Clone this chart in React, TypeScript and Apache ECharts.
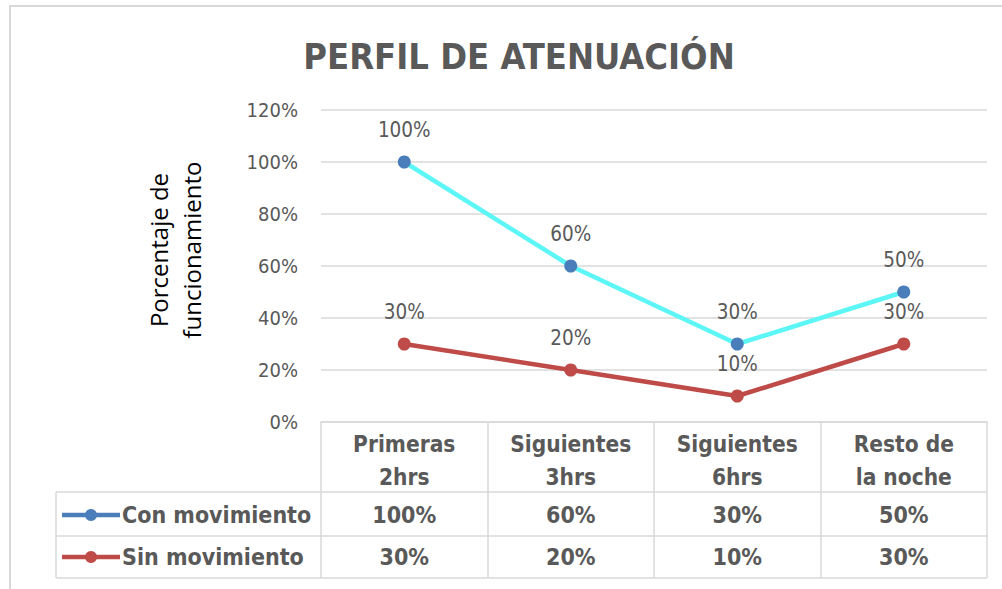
import React, { useEffect, useRef } from "react";
import * as echarts from "echarts";

const categories = ["Primeras\n2hrs", "Siguientes\n3hrs", "Siguientes\n6hrs", "Resto de\nla noche"];
const conMovimiento = [100, 60, 30, 50];
const sinMovimiento = [30, 20, 10, 30];
const seriesNames = ["Con movimiento", "Sin movimiento"];
const yTicks = { min: 0, max: 120, interval: 20 };

const NARROW = "'Liberation Sans Narrow', 'DejaVu Sans Condensed', 'Liberation Sans', sans-serif";
const GREY = "#595959";
const GRID = "#d9d9d9";

export default function App() {
  const ref = useRef<HTMLDivElement>(null);
  useEffect(() => {
    if (!ref.current) return;
    const chart = echarts.init(ref.current, undefined, { renderer: "svg" });
    const lineColors = ["#5CF6F6", "#BE4B48"];
    const markerColors = ["#4A7EBB", "#BE4B48"];
    const allData = [conMovimiento, sinMovimiento];
    chart.setOption({
      animation: false,
      backgroundColor: "#ffffff",
      title: {
        text: "PERFIL DE ATENUACIÓN",
        left: 514,
        textAlign: "center",
        top: 33,
        textStyle: { fontFamily: NARROW, fontWeight: "bold", fontSize: 36, color: GREY },
      },
      grid: { left: 321, right: 15, top: 110, bottom: 167 },
      xAxis: {
        type: "category",
        data: categories,
        boundaryGap: true,
        axisLine: { show: true, lineStyle: { color: GRID, width: 1.5 } },
        axisTick: { show: true, length: 156, alignWithLabel: false, lineStyle: { color: GRID, width: 1.5 } },
        axisLabel: {
          interval: 0,
          margin: 5,
          verticalAlign: "top",
          lineHeight: 33,
          fontFamily: NARROW,
          fontWeight: "bold",
          fontSize: 22.5,
          color: GREY,
        },
      },
      yAxis: {
        type: "value",
        min: yTicks.min,
        max: yTicks.max,
        interval: yTicks.interval,
        axisLine: { show: false },
        axisTick: { show: false },
        splitLine: { lineStyle: { color: GRID, width: 1.5 } },
        axisLabel: { formatter: "{value}%", margin: 23, fontFamily: NARROW, fontSize: 20, color: GREY },
      },
      series: allData.map((d, i) => ({
        name: seriesNames[i],
        type: "line",
        data: d,
        symbol: "circle",
        symbolSize: 13,
        lineStyle: { color: lineColors[i], width: 4.5 },
        itemStyle: { color: markerColors[i] },
        label: {
          show: true,
          position: "top",
          distance: 15,
          formatter: "{c}%",
          fontFamily: NARROW,
          fontSize: 20.5,
          color: GREY,
        },
        z: 3 - i,
      })),
    });

    const xs = conMovimiento.map((_, i) => chart.convertToPixel({ xAxisIndex: 0 }, i) as number);
    const rowY = [515, 557];
    const graphics: any[] = [
      { type: "rect", shape: { x: 10, y: 6, width: 1200, height: 800 }, style: { fill: "none", stroke: GRID, lineWidth: 2 }, silent: true },
      { type: "line", shape: { x1: 56, y1: 492, x2: 987, y2: 492 }, style: { stroke: GRID, lineWidth: 1.5 } },
      { type: "line", shape: { x1: 56, y1: 536, x2: 987, y2: 536 }, style: { stroke: GRID, lineWidth: 1.5 } },
      { type: "line", shape: { x1: 56, y1: 578, x2: 987, y2: 578 }, style: { stroke: GRID, lineWidth: 1.5 } },
      { type: "line", shape: { x1: 56, y1: 492, x2: 56, y2: 578 }, style: { stroke: GRID, lineWidth: 1.5 } },
      {
        type: "text",
        x: 175,
        y: 250,
        rotation: Math.PI / 2,
        style: {
          text: "Porcentaje de\nfuncionamiento",
          align: "center",
          verticalAlign: "middle",
          fontFamily: "'Open Sans', sans-serif",
          fontSize: 24,
          lineHeight: 33,
          fill: "#000000",
        },
      },
    ];
    allData.forEach((d, r) => {
      graphics.push({ type: "line", shape: { x1: 62, y1: rowY[r], x2: 120, y2: rowY[r] }, style: { stroke: markerColors[r], lineWidth: 4.5 } });
      graphics.push({ type: "circle", shape: { cx: 91, cy: rowY[r], r: 6 }, style: { fill: markerColors[r] } });
      graphics.push({
        type: "text",
        x: 122,
        y: rowY[r],
        style: { text: seriesNames[r], align: "left", verticalAlign: "middle", fontFamily: NARROW, fontWeight: "bold", fontSize: 23, fill: GREY },
      });
      d.forEach((v, c) => {
        graphics.push({
          type: "text",
          x: xs[c],
          y: rowY[r],
          style: { text: v + "%", align: "center", verticalAlign: "middle", fontFamily: NARROW, fontWeight: "bold", fontSize: 23, fill: GREY },
        });
      });
    });
    chart.setOption({ graphic: graphics });
    return () => chart.dispose();
  }, []);
  return <div ref={ref} style={{ position: "absolute", left: 0, top: 0, width: 1002, height: 589 }} />;
}
